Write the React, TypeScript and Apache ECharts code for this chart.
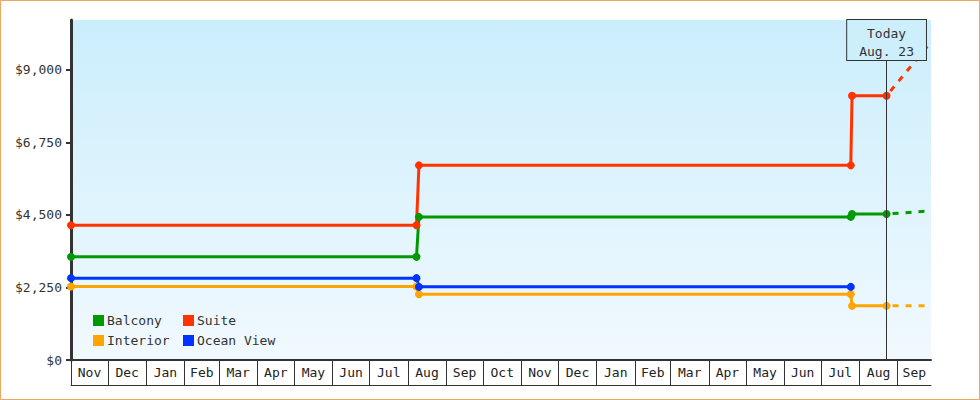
import { useEffect, useRef } from 'react';
import * as echarts from 'echarts';

const FONT = "'DejaVu Sans Mono', monospace";
const INK = '#333333';

// month cells along the bottom axis
const monthStarts = [
  '2022-11-01', '2022-12-01', '2023-01-01', '2023-02-01', '2023-03-01', '2023-04-01',
  '2023-05-01', '2023-06-01', '2023-07-01', '2023-08-01', '2023-09-01', '2023-10-01',
  '2023-11-01', '2023-12-01', '2024-01-01', '2024-02-01', '2024-03-01', '2024-04-01',
  '2024-05-01', '2024-06-01', '2024-07-01', '2024-08-01', '2024-09-01',
];
const monthNames = [
  'Nov', 'Dec', 'Jan', 'Feb', 'Mar', 'Apr', 'May', 'Jun', 'Jul', 'Aug', 'Sep', 'Oct',
  'Nov', 'Dec', 'Jan', 'Feb', 'Mar', 'Apr', 'May', 'Jun', 'Jul', 'Aug', 'Sep',
];
const axisEnd = '2024-09-28';

const yTicks = [0, 2250, 4500, 6750, 9000];
const yMax = 10550;

const today = '2024-08-23';
const todayText = 'Today\nAug. 23';

// price history, [date, price]
const balcony: [string, number][] = [
  ['2022-11-01', 3200], ['2023-08-08', 3200], ['2023-08-10', 4440],
  ['2024-07-25', 4440], ['2024-07-26', 4530], ['2024-08-23', 4530],
];
const suite: [string, number][] = [
  ['2022-11-01', 4180], ['2023-08-08', 4180], ['2023-08-10', 6040],
  ['2024-07-25', 6040], ['2024-07-26', 8200], ['2024-08-23', 8200],
];
const interior: [string, number][] = [
  ['2022-11-01', 2280], ['2023-08-08', 2280], ['2023-08-10', 2040],
  ['2024-07-25', 2040], ['2024-07-26', 1680], ['2024-08-23', 1680],
];
const oceanView: [string, number][] = [
  ['2022-11-01', 2540], ['2023-08-08', 2540], ['2023-08-10', 2270],
  ['2024-07-25', 2270],
];

// projections past today
const balconyForecast: [string, number][] = [['2024-08-23', 4530], ['2024-09-28', 4630]];
const suiteForecast: [string, number][] = [['2024-08-23', 8200], ['2024-09-28', 9870]];
const interiorForecast: [string, number][] = [['2024-08-23', 1680], ['2024-09-28', 1680]];

const colors = {
  Balcony: '#009900',
  Suite: '#ff3300',
  Interior: '#ffa500',
  'Ocean View': '#0033ff',
};

const ts = (d: string) => new Date(d + 'T00:00:00').getTime();
const toPoints = (rows: [string, number][]) => rows.map(([d, v]) => [ts(d), v]);

function buildOption() {
  const starts = monthStarts.map(ts);
  const ends = [...starts.slice(1), ts(axisEnd)];
  const mids = starts.map((s, i) => (s + ends[i]) / 2);

  const history = (name: keyof typeof colors, rows: [string, number][], extra = {}) => ({
    type: 'line',
    name,
    data: toPoints(rows),
    symbol: 'circle',
    symbolSize: 8,
    showSymbol: true,
    lineStyle: { color: colors[name], width: 3 },
    itemStyle: { color: colors[name] },
    emphasis: { disabled: true },
    ...extra,
  });

  const forecast = (name: keyof typeof colors, rows: [string, number][]) => ({
    type: 'line',
    name,
    data: toPoints(rows),
    symbol: 'none',
    silent: true,
    lineStyle: { color: colors[name], width: 3, type: [6, 7], dashOffset: -6 },
    itemStyle: { color: colors[name] },
    emphasis: { disabled: true },
  });

  return {
    animation: false,
    backgroundColor: '#ffffff',
    textStyle: { fontFamily: FONT },
    grid: {
      left: 71,
      right: 49,
      top: 20,
      bottom: 40,
      show: true,
      borderWidth: 0,
      backgroundColor: new echarts.graphic.LinearGradient(0, 0, 0, 1, [
        { offset: 0, color: '#cbeefc' },
        { offset: 1, color: '#f1f9fe' },
      ]),
    },
    legend: {
      left: 93,
      top: 313,
      width: 190,
      padding: 0,
      orient: 'horizontal',
      icon: 'rect',
      itemWidth: 11,
      itemHeight: 11,
      itemGap: 5,
      selectedMode: false,
      data: ['Balcony', 'Suite', 'Interior', 'Ocean View'],
      textStyle: {
        fontFamily: FONT,
        fontSize: 13,
        color: INK,
        width: 71,
        lineHeight: 15,
        padding: [0, 0, 0, -2],
      },
    },
    xAxis: [
      {
        type: 'value',
        min: starts[0],
        max: ts(axisEnd),
        axisLine: { show: true, onZero: false, lineStyle: { color: INK, width: 2 } },
        axisTick: {
          show: true,
          length: 25,
          customValues: starts,
          lineStyle: { color: INK, width: 1 },
        },
        axisLabel: {
          customValues: mids,
          margin: 6,
          fontFamily: FONT,
          fontSize: 13,
          color: '#222',
          formatter: (v: number) => {
            const i = mids.findIndex((m) => Math.abs(m - v) < 3600000);
            return i >= 0 ? monthNames[i] : '';
          },
        },
        splitLine: { show: false },
      },
      {
        type: 'value',
        position: 'bottom',
        offset: 25,
        min: 0,
        max: 1,
        axisLine: { show: true, onZero: false, lineStyle: { color: INK, width: 1 } },
        axisTick: { show: false },
        axisLabel: { show: false },
        splitLine: { show: false },
      },
    ],
    yAxis: {
      type: 'value',
      min: 0,
      max: yMax,
      axisLine: { show: true, onZero: false, lineStyle: { color: INK, width: 3 } },
      axisTick: { show: true, length: 5, customValues: yTicks, lineStyle: { color: INK, width: 2 } },
      axisLabel: {
        customValues: yTicks,
        margin: 9,
        fontFamily: FONT,
        fontSize: 13,
        color: INK,
        formatter: (v: number) => '$' + v.toLocaleString('en-US'),
      },
      splitLine: { show: false },
    },
    graphic: [
      {
        type: 'rect',
        silent: true,
        z: 100,
        shape: { x: 0.5, y: 0.5, width: 979, height: 399 },
        style: { fill: 'none', stroke: '#e9a862', lineWidth: 1 },
      },
    ],
    series: [
      history('Interior', interior),
      history('Ocean View', oceanView),
      history('Balcony', balcony),
      history('Suite', suite, {
        markLine: {
          silent: true,
          symbol: ['none', 'none'],
          lineStyle: { color: INK, width: 1, type: 'solid' },
          emphasis: { disabled: true },
          label: {
            show: true,
            position: 'end',
            distance: -40,
            formatter: todayText,
            fontFamily: FONT,
            fontSize: 13,
            lineHeight: 18,
            color: INK,
            backgroundColor: '#cdeffc',
            borderColor: INK,
            borderWidth: 1,
            padding: [4, 12, 0, 12],
          },
          data: [[{ coord: [ts(today), 0] }, { coord: [ts(today), yMax] }]],
        },
      }),
      forecast('Interior', interiorForecast),
      forecast('Balcony', balconyForecast),
      forecast('Suite', suiteForecast),
    ],
  };
}

function PriceChart() {
  const ref = useRef<HTMLDivElement>(null);

  useEffect(() => {
    if (!ref.current) return;
    const chart = echarts.init(ref.current, undefined, { renderer: 'svg' });
    chart.setOption(buildOption());
    return () => chart.dispose();
  }, []);

  return <div ref={ref} style={{ position: 'absolute', left: 0, top: 0, width: 980, height: 400 }} />;
}

export default function App() {
  return <PriceChart />;
}
